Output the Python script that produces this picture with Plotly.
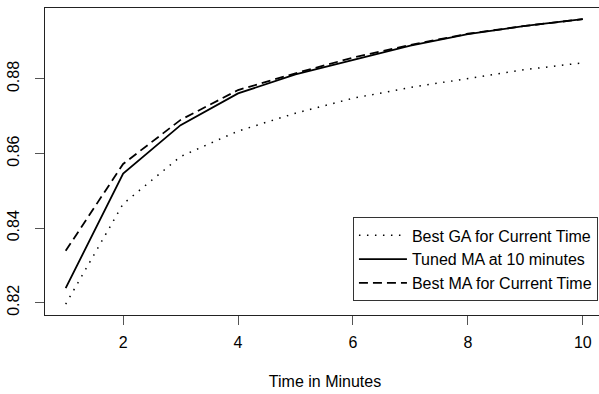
import plotly.graph_objects as go

minutes = [1, 2, 3, 4, 5, 6, 7, 8, 9, 10]
best_ga = [0.8196, 0.8465, 0.8592, 0.8660, 0.8708, 0.8748, 0.8777, 0.8800, 0.8825, 0.8843]
tuned_ma = [0.8239, 0.8546, 0.8676, 0.8761, 0.8812, 0.8850, 0.8889, 0.8920, 0.8942, 0.8960]
best_ma = [0.8339, 0.8572, 0.8690, 0.8770, 0.8815, 0.8857, 0.8891, 0.8921, 0.8942, 0.8960]

names = ["Best GA for Current Time", "Tuned MA at 10 minutes", "Best MA for Current Time"]
x_ticks = [2, 4, 6, 8, 10]
y_ticks = [0.82, 0.84, 0.86, 0.88]

FONT = "Liberation Sans, Arial, Helvetica, sans-serif"

fig = go.Figure()
fig.add_trace(go.Scatter(x=minutes, y=best_ga, mode="lines", name=names[0],
                         line=dict(color="black", width=1.5, dash="1.5px,6.5px")))
fig.add_trace(go.Scatter(x=minutes, y=tuned_ma, mode="lines", name=names[1],
                         line=dict(color="black", width=1.8)))
fig.add_trace(go.Scatter(x=minutes, y=best_ma, mode="lines", name=names[2],
                         line=dict(color="black", width=1.8, dash="9px,5px")))

fig.update_layout(
    width=605, height=394,
    margin=dict(l=44.5, r=0, t=8, b=79.3, autoexpand=False),
    paper_bgcolor="white", plot_bgcolor="white",
    font=dict(family=FONT, size=16, color="black"),
    showlegend=True,
    legend=dict(x=0.5499, y=0.318, xanchor="left", yanchor="top",
                bordercolor="#333", borderwidth=1, bgcolor="white",
                font=dict(family=FONT, size=16, color="black"),
                tracegroupgap=0, itemwidth=48),
    xaxis=dict(range=[0.64, 10.387], tickvals=x_ticks, ticktext=[str(v) for v in x_ticks],
               showgrid=False, zeroline=False, showline=True, mirror=True, automargin=False,
               linecolor="#222", linewidth=1, ticks="outside", ticklen=9,
               tickcolor="#555", ticklabelstandoff=4,
               title=dict(text="Time in Minutes", font=dict(size=16), standoff=25)),
    yaxis=dict(range=[0.8167, 0.899], tickvals=y_ticks, ticktext=[f"{v:.2f}" for v in y_ticks],
               showgrid=False, zeroline=False, showline=True, mirror=True, automargin=False,
               linecolor="#222", linewidth=1, ticks="outside", ticklen=9,
               tickcolor="#555", tickangle=-90, ticklabelstandoff=10),
)

fig.write_html("out.html", config={"displayModeBar": False},
               post_script="document.body.style.margin='0px';document.body.style.overflow='hidden';")
